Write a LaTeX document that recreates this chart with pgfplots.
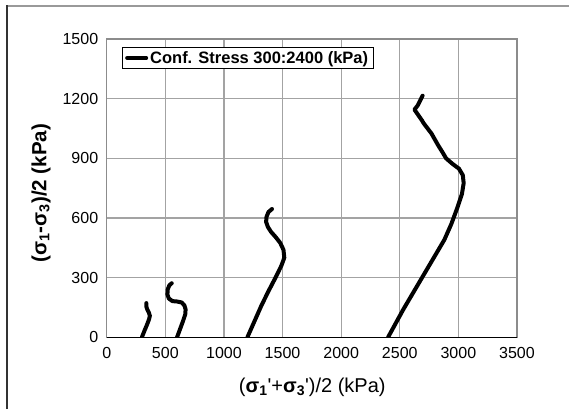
\documentclass[border=0pt]{standalone}
\usepackage{fontspec}
\setmainfont{Liberation Sans}
\usepackage{pgfplots}
\pgfplotsset{compat=1.18}

\pgfplotstableread{
x y
300 0
320 30
345 65
362 92
368 108
360 124
346 140
338 155
338 172
}\pathA

\pgfplotstableread{
x y
600 0
625 40
650 80
670 115
673 140
663 160
640 175
600 180
560 182
530 195
518 215
520 240
535 262
555 272
}\pathB

\pgfplotstableread{
x y
1200 0
1260 80
1320 160
1380 232
1440 300
1490 360
1515 400
1508 440
1480 475
1440 505
1402 530
1375 555
1360 580
1363 605
1380 630
1410 645
}\pathC

\pgfplotstableread{
x y
2400 0
2530 140
2680 290
2790 400
2880 490
2940 570
2990 650
3030 720
3045 775
3038 815
3005 848
2950 872
2895 900
2865 930
2828 965
2770 1025
2704 1076
2690 1090
2625 1145
2652 1165
2695 1215
}\pathD

\pgfplotsset{stresspath/.style={black, no markers, line width=4pt, line join=round, line cap=round}}

\begin{document}
\begin{tikzpicture}[x=1pt,y=1pt]
\useasboundingbox (0,0) rectangle (569,409);
% outer chart frame
\draw[gray!80, line width=1.5pt] (7,403) -- (569,403);
\draw[black!80, line width=1.2pt] (7,0) -- (7,403.6);
\begin{axis}[
  at={(106.7pt,71.7pt)}, anchor=south west,
  scale only axis, width=410.3pt, height=298.3pt,
  xmin=0, xmax=3500, ymin=0, ymax=1500,
  xtick={0,500,...,3500}, ytick={0,300,...,1500},
  major tick length=0pt,
  grid=major,
  major grid style={draw=black!36, line width=1.2pt},
  axis line style={draw=black!45, line width=1.2pt},
  tick label style={font=\fontsize{16}{19}\selectfont},
  /pgf/number format/assume math mode=true,
  /pgf/number format/1000 sep={},
  xticklabel style={yshift=-6pt},
  yticklabel style={xshift=-5pt},
  every axis x label/.style={at={(axis description cs:0.501,-0.167)}, anchor=center},
  every axis y label/.style={at={(axis description cs:-0.160,0.483)}, rotate=90, anchor=center},
  xlabel={\fontsize{20}{24}\selectfont (\textbf{σ\textsubscript{1}}\textquotesingle+\textbf{σ\textsubscript{3}}\textquotesingle)/2 (kPa)},
  ylabel={\fontsize{20.5}{24}\selectfont\bfseries (σ\textsubscript{1}-σ\textsubscript{3})/2 (kPa)},
  legend style={at={(axis description cs:0.0365,0.974)}, anchor=north west,
    draw=black, line width=1pt, fill=white,
    font=\bfseries\fontsize{16.5}{19}\selectfont,
    inner xsep=3pt, inner ysep=2pt},
  legend cell align=left,
  legend image code/.code={\draw[#1, line width=4pt] (0pt,0pt) -- (19pt,0pt);},
]
\draw[black, line width=1.3pt] (axis cs:0,0) -- (axis cs:3500,0);
\addplot[stresspath] table[x=x,y=y] {\pathA};
\addlegendentry{Conf. Stress 300:2400 (kPa)}
\addplot[stresspath] table[x=x,y=y] {\pathB};
\addplot[stresspath] table[x=x,y=y] {\pathC};
\addplot[stresspath] table[x=x,y=y] {\pathD};
\end{axis}
\end{tikzpicture}
\end{document}
